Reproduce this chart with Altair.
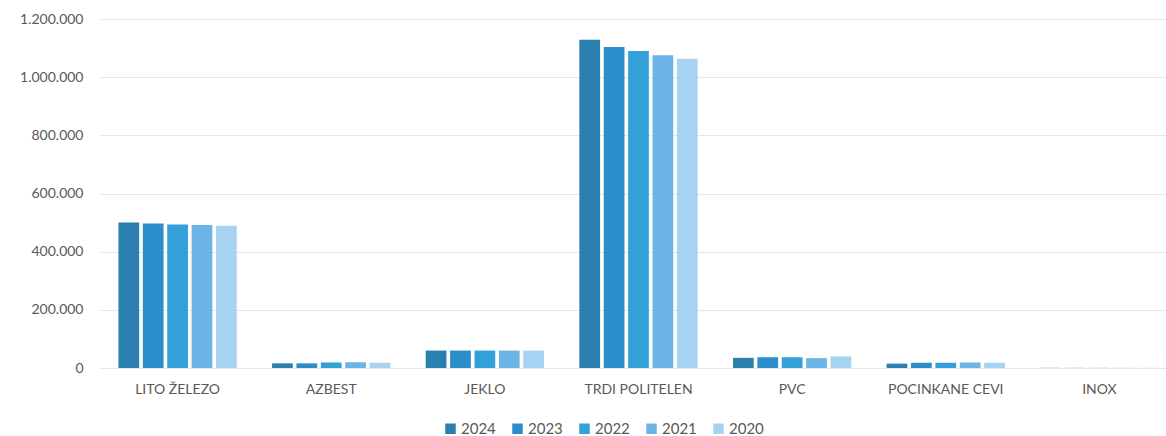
import altair as alt
import pandas as pd

categories = ["LITO ŽELEZO", "AZBEST", "JEKLO", "TRDI POLITELEN", "PVC", "POCINKANE CEVI", "INOX"]
years = ["2024", "2023", "2022", "2021", "2020"]
values = {
    "2024": [500000, 16000, 60000, 1129000, 35000, 15000, 500],
    "2023": [497000, 16000, 60000, 1104000, 37000, 18000, 500],
    "2022": [493000, 19000, 60000, 1090000, 37000, 18000, 500],
    "2021": [492000, 20000, 60000, 1075000, 34000, 19000, 500],
    "2020": [489000, 18000, 60000, 1063000, 40000, 18000, 500],
}
colors = ["#2a7fae", "#2b8ecb", "#33a0da", "#6db4e6", "#a6d3f2"]

rows = []
for y in years:
    for c, v in zip(categories, values[y]):
        rows.append({"cat": c, "year": y, "value": v})
df = pd.DataFrame(rows)

font = "Lato"
chart = alt.Chart(df).mark_bar().encode(
    x=alt.X("cat:N", sort=categories, title=None,
            scale=alt.Scale(paddingInner=0.23, paddingOuter=0.12, range=[0, 1077]),
            axis=alt.Axis(labelAngle=0, labelFontSize=14, labelColor="#595959",
                          labelFont=font, ticks=False, domain=False, labelPadding=14)),
    xOffset=alt.XOffset("year:N", sort=years, scale=alt.Scale(paddingInner=0.15)),
    y=alt.Y("value:Q", title=None,
            scale=alt.Scale(domain=[0, 1200000], nice=False),
            axis=alt.Axis(values=[0, 200000, 400000, 600000, 800000, 1000000, 1200000],
                          labelExpr="replace(format(datum.value, ','), regexp(',', 'g'), '.')",
                          labelFontSize=14, labelColor="#595959", labelFont=font,
                          ticks=False, domain=False, labelPadding=17,
                          gridColor="#e6e6e6", gridWidth=1)),
    color=alt.Color("year:N", sort=years, scale=alt.Scale(domain=years, range=colors),
                    legend=alt.Legend(title=None, orient="none", direction="horizontal",
                                      legendX=343, legendY=402, symbolType="square",
                                      symbolSize=110, symbolStrokeWidth=0,
                                      labelFontSize=15, labelColor="#595959", labelFont=font,
                                      columnPadding=14, labelOffset=3)),
).properties(
    width=1060, height=349,
    autosize=alt.AutoSizeParams(type="none"),
    padding={"left": 100, "top": 19, "right": 6, "bottom": 68},
).configure_view(stroke=None)

chart.save("out.html", embed_options={"renderer": "svg", "actions": False})
